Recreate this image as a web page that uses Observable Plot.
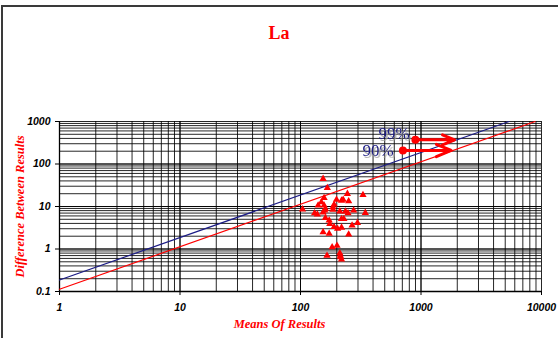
<!DOCTYPE html>
<html>
<head>
<meta charset="utf-8">
<script src="https://cdn.jsdelivr.net/npm/d3@7"></script>
<script src="https://cdn.jsdelivr.net/npm/@observablehq/plot@0.6"></script>
<style>
  html, body { margin: 0; padding: 0; background: #fff; width: 558px; height: 338px; overflow: hidden; }
  #wrap { position: relative; width: 558px; height: 338px; }
  #frame { position: absolute; left: 1px; top: 5px; width: 600px; height: 400px; border-top: 2px solid #3a3a3a; border-left: 2px solid #3a3a3a; pointer-events: none; }
  #title { position: absolute; left: 0; top: 0; width: 558px; height: 60px; text-align: center; font: bold 18px "Liberation Serif", "Times New Roman", serif; color: #ff0000; line-height: 18px; padding-top: 24px; box-sizing: border-box; }
  #chart { position: absolute; left: 0; top: 60px; }
</style>
</head>
<body>
<div id="wrap">
  <div id="title">La</div>
  <div id="chart"></div>
  <div id="frame"></div>
</div>
<script>
// ---- data ----
const titleText = "La";
const xLabel = "Means Of Results";
const yLabel = "Difference Between Results";
const xTicks = [1, 10, 100, 1000, 10000];
const yTicks = [0.1, 1, 10, 100, 1000];

// sample means (x) and differences (y)
const means = [154, 167, 104, 131, 138, 140, 149, 157, 157, 159, 161, 154, 186, 190, 199, 219, 226, 245, 251, 330, 345, 276, 236, 248, 212, 219, 229, 161, 173, 175, 297, 268, 219, 203, 190, 154, 173, 251, 183, 201, 166, 212, 214, 215, 219, 186];
const diffs = [44.9, 27.5, 8.6, 6.95, 6.5, 10.6, 12.6, 16, 10.6, 8.05, 8.8, 7.3, 9.6, 11, 14.4, 13.8, 14.4, 19.9, 13.3, 18.8, 7.1, 8.05, 7.7, 6.95, 7.7, 5.1, 5.1, 5.4, 4.7, 3.9, 4.1, 3.6, 3.2, 3.0, 3.3, 2.5, 2.3, 2.2, 1.1, 1.2, 0.70, 0.80, 0.70, 0.64, 0.57, 8.4];

// control limit slopes (difference = k * mean)
const limitNames = ["99%", "90%"];
const limitSlopes = [0.186, 0.113];
const limitColors = ["#1c1c86", "#ff0000"];

// annotation anchors: dot (x,y), arrow end x, label end x, label y
const annDotX = [898, 708];
const annDotY = [370, 208];
const annArrowEndX = [1900, 1783];
const annLabelX = [805, 593];
const annLabelY = [522, 208];

// ---- build ----
const points = means.map((m, i) => ({x: m, y: diffs[i]}));
const minorX = [];
for (let d = 1; d <= 1000; d *= 10) for (let k = 1; k <= 10; k++) minorX.push(d * k);
const minorY = [];
for (let d = 0.1; d <= 100.0001; d *= 10) for (let k = 1; k <= 10; k++) minorY.push(+(d * k).toPrecision(3));

const lineData = [];
limitSlopes.forEach((k, i) => {
  const xEnd = Math.min(10000, 1000 / k);
  lineData.push({name: limitNames[i], x: 1, y: k});
  lineData.push({name: limitNames[i], x: xEnd, y: k * xEnd});
});
const ann = limitNames.map((n, i) => ({
  name: n, x: annDotX[i], y: annDotY[i], x2: annArrowEndX[i], lx: annLabelX[i], ly: annLabelY[i]
}));

const tickFont = {fontSize: 10.5, fontWeight: "bold", fontStyle: "italic", fontFamily: "Liberation Sans, Arial, sans-serif"};

const plot = Plot.plot({
  width: 558,
  height: 278,
  marginLeft: 59,
  marginRight: 17,
  marginTop: 61,
  marginBottom: 47,
  style: {background: "transparent", color: "#000", fontFamily: "Liberation Sans, Arial, sans-serif", overflow: "visible"},
  x: {type: "log", domain: [1, 10000]},
  y: {type: "log", domain: [0.1, 1000]},
  marks: [
    Plot.ruleX(minorX, {stroke: "#000", strokeWidth: 1, strokeOpacity: 0.85}),
    Plot.ruleY(minorY, {stroke: "#000", strokeWidth: 1, strokeOpacity: 0.85}),
    Plot.axisX({ticks: xTicks, tickFormat: d => String(d), tickSize: 4, tickPadding: 8, label: null, ...tickFont, fill: "#000", stroke: "#000"}),
    Plot.axisY({ticks: yTicks, tickFormat: d => String(d), tickSize: 4, tickPadding: 5, label: null, ...tickFont, fill: "#000", stroke: "#000"}),
    Plot.ruleX([1], {stroke: "#000", strokeWidth: 1.3}),
    Plot.ruleY([0.1], {stroke: "#000", strokeWidth: 1.3}),
    Plot.line(lineData, {x: "x", y: "y", z: "name", stroke: "name", strokeWidth: 1.2}),
    Plot.dot(points, {x: "x", y: "y", symbol: "triangle", r: 2.7, fill: "#ff0000", stroke: "none"}),
    Plot.arrow(ann, {x1: "x", y1: "y", x2: "x2", y2: "y", stroke: "#ff0000", strokeWidth: 3, headLength: 14, headAngle: 45}),
    Plot.dot(ann, {x: "x", y: "y", r: 4, fill: "#ff0000"}),
    Plot.text(ann, {x: "lx", y: "ly", text: "name", textAnchor: "end", fill: "#1c1c86", fontSize: 17, fontFamily: "Liberation Serif, Times New Roman, serif", className: "shadowed"}),
    Plot.text([xLabel], {frameAnchor: "bottom", dx: -21, dy: 36, text: d => d, fill: "#ff0000", fontSize: 12.5, fontWeight: "bold", fontStyle: "italic", fontFamily: "Liberation Serif, Times New Roman, serif"}),
    Plot.text([yLabel], {frameAnchor: "left", dx: -40, rotate: -90, textAnchor: "middle", text: d => d, fill: "#ff0000", fontSize: 12.5, fontWeight: "bold", fontStyle: "italic", fontFamily: "Liberation Serif, Times New Roman, serif"})
  ],
  color: {domain: limitNames, range: limitColors}
});

// drop shadow on percentage labels, as in the reference
const ns = "http://www.w3.org/2000/svg";
const defs = document.createElementNS(ns, "defs");
const filt = document.createElementNS(ns, "filter");
filt.setAttribute("id", "txtShadow");
filt.setAttribute("x", "-20%"); filt.setAttribute("y", "-20%");
filt.setAttribute("width", "140%"); filt.setAttribute("height", "140%");
const ds = document.createElementNS(ns, "feDropShadow");
ds.setAttribute("dx", "1.5"); ds.setAttribute("dy", "2");
ds.setAttribute("stdDeviation", "0");
ds.setAttribute("flood-color", "#a0a0a0");
filt.appendChild(ds); defs.appendChild(filt);
plot.insertBefore(defs, plot.firstChild);
plot.querySelectorAll("g.shadowed").forEach(g => g.setAttribute("filter", "url(#txtShadow)"));

document.getElementById("title").textContent = titleText;
document.getElementById("chart").appendChild(plot);
</script>
</body>
</html>
